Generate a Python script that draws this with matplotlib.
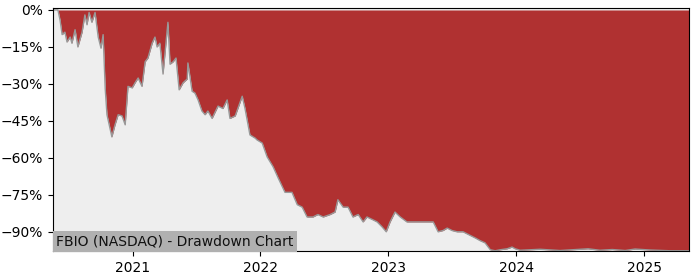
import matplotlib
matplotlib.use("Agg")
import matplotlib.pyplot as plt
import matplotlib.dates as mdates
import pandas as pd
from matplotlib.ticker import FuncFormatter

dates = [
    "2020-05-19", "2020-05-25", "2020-06-02", "2020-06-08", "2020-06-14", "2020-06-22",
    "2020-06-28", "2020-07-07", "2020-07-12", "2020-07-21", "2020-07-29", "2020-08-10",
    "2020-08-18", "2020-08-24", "2020-08-30", "2020-09-07", "2020-09-16", "2020-09-25",
    "2020-10-03", "2020-10-09", "2020-10-15", "2020-10-20", "2020-11-03", "2020-11-12",
    "2020-11-21", "2020-12-02", "2020-12-11", "2020-12-19", "2020-12-31", "2021-01-08",
    "2021-01-17", "2021-01-28", "2021-02-06", "2021-02-14", "2021-02-26", "2021-03-06",
    "2021-03-12", "2021-03-20", "2021-03-29", "2021-04-12", "2021-04-18", "2021-04-27",
    "2021-05-05", "2021-05-14", "2021-05-25", "2021-06-06", "2021-06-08", "2021-06-20",
    "2021-06-28", "2021-07-07", "2021-07-18", "2021-07-27", "2021-08-04", "2021-08-16",
    "2021-09-02", "2021-09-16", "2021-09-28", "2021-10-06", "2021-10-21", "2021-11-10",
    "2021-11-18", "2021-12-02", "2021-12-17", "2021-12-22", "2022-01-06", "2022-01-20",
    "2022-02-06", "2022-02-20", "2022-03-12", "2022-04-01", "2022-04-16", "2022-04-30",
    "2022-05-14", "2022-05-31", "2022-06-14", "2022-06-29", "2022-07-19", "2022-08-02",
    "2022-08-10", "2022-08-25", "2022-09-08", "2022-09-22", "2022-10-07", "2022-10-21",
    "2022-11-01", "2022-11-16", "2022-11-30", "2022-12-14", "2022-12-26", "2023-01-06",
    "2023-01-20", "2023-02-04", "2023-02-23", "2023-03-10", "2023-03-24", "2023-04-16",
    "2023-05-09", "2023-05-23", "2023-06-06", "2023-06-18", "2023-07-02", "2023-07-16",
    "2023-08-02", "2023-08-16", "2023-09-06", "2023-09-20", "2023-10-04", "2023-10-19",
    "2023-11-02", "2023-11-16", "2023-12-06", "2023-12-20", "2023-12-29", "2024-01-12",
    "2024-03-09", "2024-05-05", "2024-07-24", "2024-08-27", "2024-10-01", "2024-11-07",
    "2024-12-05", "2025-01-17", "2025-03-15", "2025-05-08",
]
drawdown = [
    0.0, 0.0, 0.0, -4.0, -10.0, -9.0,
    -13.0, -11.0, -13.5, -8.0, -15.0, -9.0,
    -2.0, -6.0, -1.0, -5.0, -1.0, -11.0,
    -15.5, -10.0, -32.0, -42.5, -51.5, -46.6,
    -42.5, -43.0, -46.6, -31.0, -31.6, -29.6,
    -27.6, -31.0, -21.0, -19.5, -13.5, -11.0,
    -15.0, -13.5, -26.0, -5.0, -22.0, -21.0,
    -19.5, -32.4, -29.6, -28.0, -21.5, -33.0,
    -33.7, -36.5, -41.0, -42.5, -41.0, -44.0,
    -39.0, -40.0, -36.5, -44.0, -43.0, -35.0,
    -40.0, -50.7, -52.0, -52.7, -54.0, -59.6,
    -63.6, -68.0, -74.0, -74.0, -79.0, -80.0,
    -84.0, -84.0, -83.0, -84.0, -83.0, -82.0,
    -77.0, -80.0, -80.0, -84.0, -83.0, -86.0,
    -84.0, -85.0, -86.0, -88.0, -90.0, -86.0,
    -82.0, -84.0, -86.0, -86.0, -86.0, -86.0,
    -86.0, -90.0, -89.5, -88.5, -89.5, -90.0,
    -90.0, -91.0, -92.5, -93.6, -94.5, -97.3,
    -97.7, -97.3, -96.9, -96.2, -96.9, -97.5,
    -97.1, -97.6, -96.9, -97.5, -97.2, -97.6,
    -97.0, -97.4, -97.7, -97.7,
]
title_text = "FBIO (NASDAQ) - Drawdown Chart"
ytick_values = [0, -15, -30, -45, -60, -75, -90]

x = pd.to_datetime(dates)

fig = plt.figure(figsize=(7, 2.8), dpi=100)
ax = fig.add_axes([53 / 700, 29 / 280, 636 / 700, 243 / 280])
ax.set_facecolor("#eeeeee")
ax.fill_between(x, drawdown, 0, color="#b03131", linewidth=0)
ax.plot(x, drawdown, color="#999999", linewidth=1.0)

ax.set_xlim(x[0], x[-1])
ax.set_ylim(-97.8, 0.8)
ax.set_yticks(ytick_values)
ax.yaxis.set_major_formatter(FuncFormatter(lambda v, p: f"{int(v)}%".replace("-", "\u2212")))
ax.xaxis.set_major_locator(mdates.YearLocator())
ax.xaxis.set_major_formatter(mdates.DateFormatter("%Y"))
ax.tick_params(labelsize=10)

ax.text(0.005, 0.012, title_text, transform=ax.transAxes, fontsize=10,
        ha="left", va="bottom", color="#111111",
        bbox=dict(facecolor="#b0b0b0", edgecolor="none", pad=2.5))

fig.savefig("out.png", dpi=100)
